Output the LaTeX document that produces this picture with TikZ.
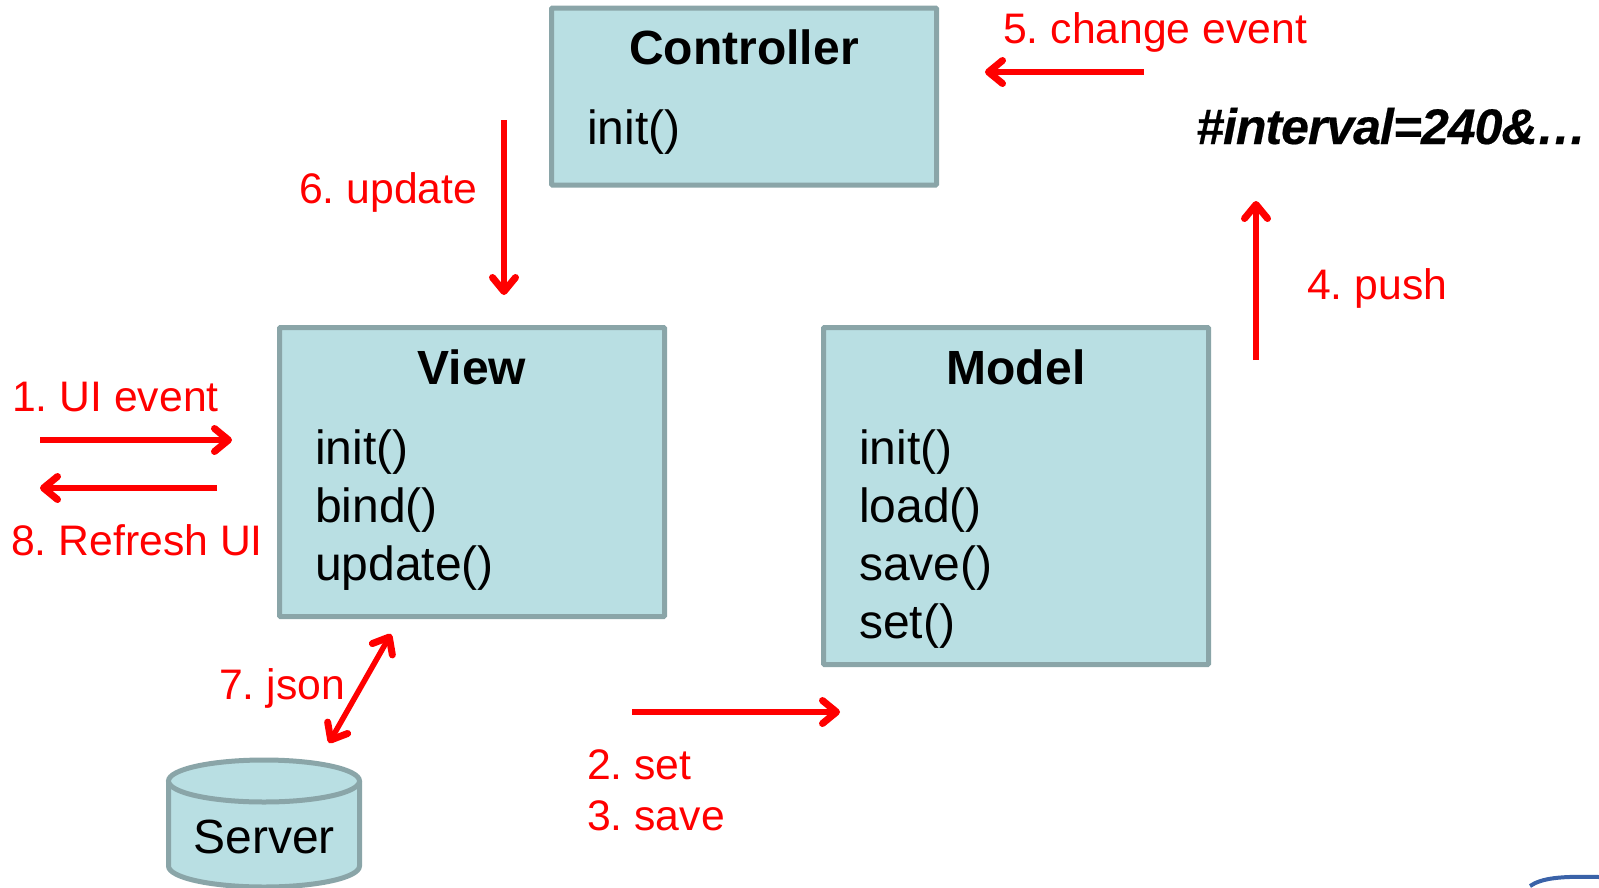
\documentclass[tikz,border=0pt]{standalone}
\usepackage{fontspec}
\setmainfont{Liberation Sans}
\usetikzlibrary{arrows.meta}

\definecolor{boxfill}{HTML}{B9DFE3}
\definecolor{boxline}{HTML}{8AA5A8}
\definecolor{logoblue}{HTML}{3A62A8}

\tikzset{
  classbox/.style={draw=boxline, fill=boxfill, line width=5pt, rounded corners=1pt, inner sep=0pt},
  title/.style={anchor=base, inner sep=0pt, font=\fontsize{48}{57}\selectfont\bfseries},
  method/.style={anchor=base west, inner sep=0pt, font=\fontsize{48}{57}\selectfont},
  lab/.style={anchor=base west, inner sep=0pt, text=red, font=\fontsize{42.7}{52}\selectfont},
  barb/.tip={Straight Barb[length=14pt,width=23pt,line width=7pt,round]},
  flow/.style={draw=red, line width=5.5pt, -barb},
}

\begin{document}
\frenchspacing
\begin{tikzpicture}[x=1pt,y=-1pt]
  \useasboundingbox (0,0) rectangle (1599,887);

  % boxes
  \node [classbox, minimum width=385pt, minimum height=177pt] (ctrl)  at (744,96.5) {};
  \node [classbox, minimum width=385pt, minimum height=289pt] (view)  at (472,472) {};
  \node [classbox, minimum width=385pt, minimum height=337pt] (model) at (1016,496) {};

  % server
  \draw [draw=boxline, fill=boxfill, line width=5pt] (168.5,781) -- (168.5,866)
    arc [start angle=180, end angle=360, x radius=95.5pt, y radius=21pt] -- (359.5,781);
  \draw [draw=boxline, fill=boxfill, line width=5pt] (264,781) ellipse [x radius=95.5pt, y radius=21pt];

  % box texts
  \node [title] (ctrlt)  at (744,64)  {Controller};
  \node [title] (viewt)  at (472,384) {View};
  \node [title] (modelt) at (1016,384) {Model};
  \node [method] (ctrl1)  at (587,144) {init()};
  \node [method] (view1)  at (315,464) {init()};
  \node [method] (view2)  at (315,522) {bind()};
  \node [method] (view3)  at (315,580) {update()};
  \node [method] (model1) at (859,464) {init()};
  \node [method] (model2) at (859,522) {load()};
  \node [method] (model3) at (859,580) {save()};
  \node [method] (model4) at (859,638) {set()};
  \node [method, anchor=base] (srvt) at (264,853) {Server};
  \node [method, font=\fontsize{50}{60}\selectfont\bfseries\itshape\addfontfeature{LetterSpace=-2,FakeBold=0.4}] (hash) at (1196,144) {\#interval=240\&…};

  % red labels
  \node [lab] (l1) at (12,411)   {1. UI event};
  \node [lab] (l8) at (11,555)   {8. Refresh UI};
  \node [lab] (l7) at (219,699)  {7. json};
  \node [lab] (l2) at (587,779)  {2. set};
  \node [lab] (l3) at (587,830)  {3. save};
  \node [lab] (l4) at (1307,299) {4. push};
  \node [lab] (l5) at (1003,43)  {5. change event};
  \node [lab] (l6) at (299,203)  {6. update};

  % arrow ends
  \coordinate (a1) at (40,440);    \coordinate (b1) at (232,440);
  \coordinate (a8) at (217,488);   \coordinate (b8) at (40,488);
  \coordinate (a7) at (391,634);   \coordinate (b7) at (329,743);
  \coordinate (a2) at (632,712);   \coordinate (b2) at (840,712);
  \coordinate (a4) at (1256,360);  \coordinate (b4) at (1256,201);
  \coordinate (a5) at (1144,72);   \coordinate (b5) at (985,72);
  \coordinate (a6) at (504,120);   \coordinate (b6) at (504,295);

  \draw [flow] (a1) -- (b1);
  \draw [flow] (a8) -- (b8);
  \draw [flow, barb-barb] (a7) -- (b7);
  \draw [flow] (a2) -- (b2);
  \draw [flow] (a4) -- (b4);
  \draw [flow] (a5) -- (b5);
  \draw [flow] (a6) -- (b6);

  % corner of the logo
  \draw [logoblue, line width=4pt] (1530,886) .. controls (1542,878) and (1560,876) .. (1599,877);
\end{tikzpicture}
\end{document}
